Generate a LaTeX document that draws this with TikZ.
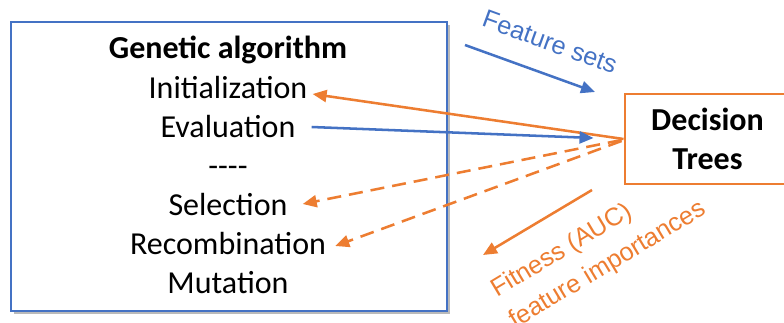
\documentclass[tikz,border=0pt]{standalone}
\usepackage{fontspec}
\setmainfont{Carlito}
\newfontfamily\arialf{Liberation Sans}
\usetikzlibrary{arrows.meta,shadows}
\definecolor{gablue}{HTML}{4472C4}
\definecolor{dtorange}{HTML}{ED7D31}
\tikzset{
  step txt/.style={anchor=base, inner sep=0.75pt, font=\fontsize{24}{29.25}\selectfont},
  fwd/.style={draw=gablue, line width=1.9pt, -{Triangle[length=10.5pt,width=9pt]}},
  bwd/.style={draw=dtorange, line width=1.9pt, -{Triangle[length=10.5pt,width=9pt]}},
  bwd dash/.style={bwd, dash pattern=on 10.5pt off 6pt},
  lbl/.style={font=\arialf\fontsize{19}{24}\selectfont, inner sep=0.75pt}
}
\begin{document}
\begin{tikzpicture}[x=0.75pt,y=0.75pt,yscale=-1,xscale=1]
\useasboundingbox (0,0) rectangle (784,322);

%Shape: Rectangle (genetic algorithm)
\draw[gablue, line width=2.2pt, fill=white,
  drop shadow={shadow xshift=2pt, shadow yshift=-2pt, fill=black!45, opacity=0.6}]
  (11,22) rectangle (447,311);

% Text Nodes
\node[step txt, font=\bfseries\fontsize{24}{29.25}\selectfont] (ga) at (228,58) {Genetic algorithm};
\node[step txt] (init) at (228,98) {Initialization};
\node[step txt] (eval) at (228,137) {Evaluation};
\node[step txt] (sep) at (228,176) {-{}-{}-{}-};
\node[step txt] (sel) at (228,215) {Selection};
\node[step txt] (reco) at (228,254) {Recombination};
\node[step txt] (mut) at (228,293) {Mutation};

%Shape: Rectangle (decision trees)
\node[draw=dtorange, line width=2.2pt, minimum width=123.75pt, minimum height=67.5pt,
  align=center, font=\bfseries\fontsize{24}{29.25}\selectfont] (dt) at (707.5,139) {Decision\\Trees};

%Straight Lines
\draw[bwd] (dt.west) -- ([shift={(4,-4)}]init.base east);
\draw[fwd] ([shift={(15,-10)}]eval.base east) -- ([shift={(-30,-1)}]dt.west);
\draw[bwd dash] ([shift={(-2,1)}]dt.west) -- ([shift={(14,-11)}]sel.base east);
\draw[bwd dash] ([shift={(-2,2)}]dt.west) -- ([shift={(8,-8)}]reco.base east);

% Feature sets
\coordinate (fsA) at (465,45);
\coordinate (fsB) at (595,92);
\draw[fwd] (fsA) -- (fsB);
\node[lbl, text=gablue, rotate=-20] (fslbl) at (550,42) {Feature sets};

% Fitness
\coordinate (fiA) at (592,190);
\coordinate (fiB) at (483,255);
\draw[bwd] (fiA) -- (fiB);
\node[lbl, text=dtorange, rotate=31, align=left] (filbl) at (599,250) {Fitness (AUC)\\[3pt]feature importances};

\end{tikzpicture}
\end{document}
